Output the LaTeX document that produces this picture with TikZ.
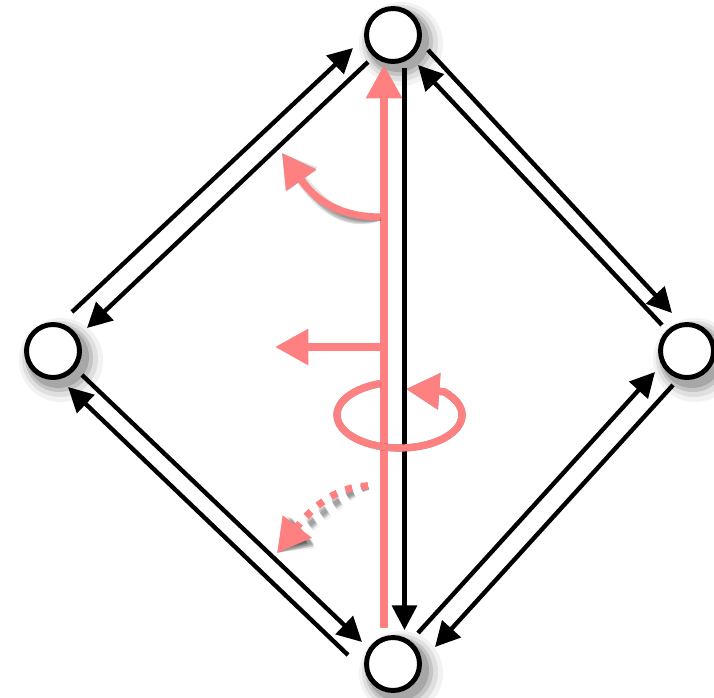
\documentclass[tikz,border=0pt]{standalone}
\usetikzlibrary{arrows.meta}
\definecolor{salmon}{RGB}{255,128,128}
\newcommand\withshadow[2]{%
  \foreach \dx/\dy in {3/4,5/6,7/8,4/9,9/5,6/11,11/7,8/10,10/12}{%
    \draw[#1,draw=black,opacity=0.06,shift={(\dx,\dy)}] #2;}%
  \draw[#1] #2;}
\begin{document}
\begin{tikzpicture}[x=0.75pt,y=-0.75pt,
  dot/.style={circle,draw=black,line width=3.7pt,fill=white,minimum size=39.75pt,inner sep=0pt},
  blk/.style={line width=3.3pt,-{Triangle[length=18.5pt,width=18.5pt]}},
  redarr/.style={draw=salmon,line width=5.4pt,-{Triangle[length=25pt,width=26pt]}},
  ]
\useasboundingbox (0,0) rectangle (714,697);

% circle positions
\coordinate (cT) at (393,35);
\coordinate (cL) at (53,351);
\coordinate (cR) at (687,351);
\coordinate (cB) at (393,664);

% circle shadows
\foreach \n in {cT,cL,cR,cB}{
  \fill[black,opacity=0.05] ([shift={(8,9)}]\n) circle[radius=42];
  \fill[black,opacity=0.08] ([shift={(7,8)}]\n) circle[radius=38];
  \fill[black,opacity=0.12] ([shift={(6,7)}]\n) circle[radius=34];
  \fill[black,opacity=0.15] ([shift={(5,6)}]\n) circle[radius=31];
}

% edge end points
\coordinate (tlo1) at (72,312);  \coordinate (tlo2) at (353,48);
\coordinate (tli1) at (368,62);  \coordinate (tli2) at (87,328);
\coordinate (tro1) at (428,50);  \coordinate (tro2) at (672,313);
\coordinate (tri1) at (662,325); \coordinate (tri2) at (418,65);
\coordinate (bli1) at (82,375);  \coordinate (bli2) at (362,642);
\coordinate (blo1) at (348,655); \coordinate (blo2) at (68,387);
\coordinate (bri1) at (418,633); \coordinate (bri2) at (655,372);
\coordinate (bro1) at (673,385); \coordinate (bro2) at (435,647);
\coordinate (vb1) at (404.5,68); \coordinate (vb2) at (404.5,630);
\coordinate (vr1) at (384,628);  \coordinate (vr2) at (384,65);

% black connectors
\draw[blk] (tlo1) -- (tlo2);
\draw[blk] (tli1) -- (tli2);
\draw[blk] (tro1) -- (tro2);
\draw[blk] (tri1) -- (tri2);
\draw[blk] (bli1) -- (bli2);
\draw[blk] (blo1) -- (blo2);
\draw[blk] (bri1) -- (bri2);
\draw[blk] (bro1) -- (bro2);
\draw[blk] (vb1) -- (vb2);

% red axis
\draw[redarr] (vr1) -- (vr2);

% red horizontal arrow
\coordinate (h1) at (384,347);
\coordinate (h2) at (275,347);
\draw[redarr] (h1) -- (h2);

% red curved arrow
\coordinate (c1) at (380,217);
\coordinate (c2) at (282,153);
\withshadow{redarr}{(c1) .. controls (340,217) and (315,200) .. (c2)}

% dotted curved arrow
\coordinate (d1) at (368,486);
\coordinate (d2) at (277,553);
\withshadow{redarr,dash pattern=on 5.25pt off 6.75pt}{(d1) .. controls (335,486) and (310,510) .. (d2)}

% rotation ellipse
\coordinate (e1) at (380.2,383.6);
\coordinate (e2) at (406,389);
\withshadow{redarr}{(e1) arc[start angle=252, end angle=-45, x radius=62.5, y radius=33] -- (e2)}

% circles
\node[dot] (T) at (cT) {};
\node[dot] (L) at (cL) {};
\node[dot] (R) at (cR) {};
\node[dot] (B) at (cB) {};
\end{tikzpicture}
\end{document}
